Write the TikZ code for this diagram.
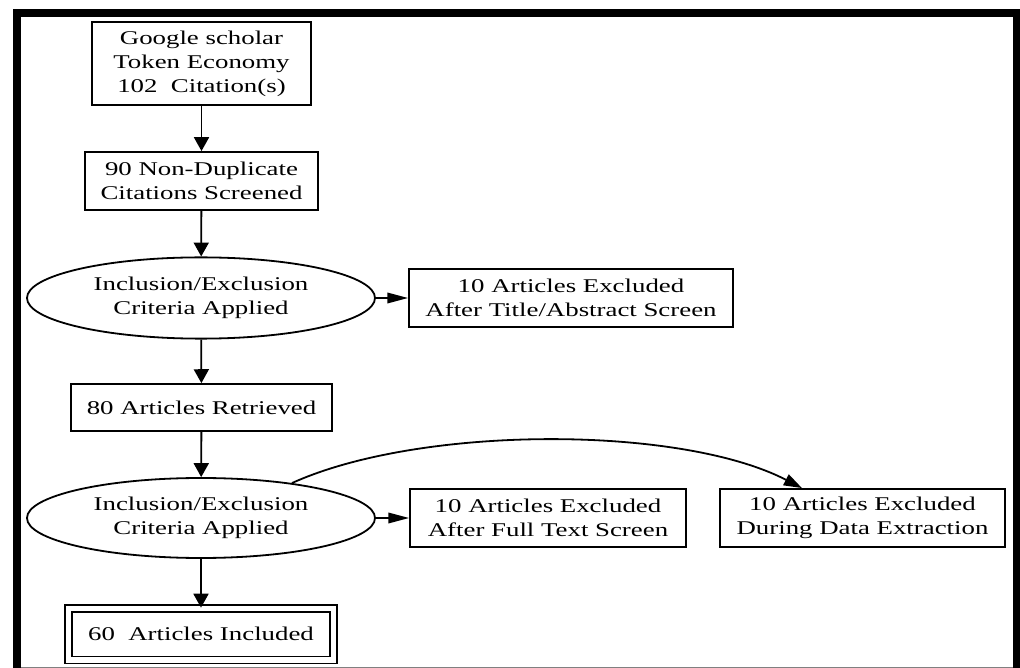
\documentclass[tikz,border=0pt]{standalone}
\usepackage{fontspec}
\setmainfont{Liberation Serif}[FakeStretch=1.38]
\usetikzlibrary{arrows.meta, shapes.geometric}

\begin{document}
\begin{tikzpicture}[x=0.72pt, y=-0.72pt, line width=1.3pt,
        box/.style={draw, rectangle, align=center, inner sep=0pt, minimum height=41.8pt, font=\fontsize{14pt}{17.3pt}\selectfont},
        crit/.style={draw, ellipse, align=center, inner sep=0pt, minimum width=250.6pt, minimum height=58.5pt, font=\fontsize{14pt}{17.3pt}\selectfont},
        down/.style={-{Triangle[length=10pt, width=10.8pt]}},
        side/.style={-{Triangle[length=15pt, width=7.6pt]}}
    ]
      \useasboundingbox (0,0) rectangle (1020,668);

      % Frame
      \draw[line width=5.8pt, line join=miter] (17,690) -- (17,13) -- (1017,13) -- (1017,690);
      \draw[gray, line width=0.6pt] (21,667.3) -- (1013,667.3);

      % Main column
      \node[box, minimum width=157.7pt, minimum height=59.8pt] (scholar) at (201.5,63.5) {Google scholar\\Token Economy\\102\ \ Citation(s)};
      \node[box, minimum width=167.8pt] (nondup) at (201.5,181) {90 Non-Duplicate\\Citations Screened};
      \node[crit] (crit1) at (201,298) {Inclusion/Exclusion\\Criteria Applied};
      \node[box, minimum width=187.9pt, minimum height=33.8pt] (retrieved) at (201.5,407.5) {80 Articles Retrieved};
      \node[crit, minimum height=57.6pt] (crit2) at (201,518) {Inclusion/Exclusion\\Criteria Applied};
      \node[box, double, double distance=3.7pt, minimum width=190.8pt, minimum height=37.1pt] (included) at (201,634.3) {60\ \ Articles Included};

      % Exclusions
      \node[box, minimum width=233.3pt] (excl1) at (571,298) {10 Articles Excluded\\After Title/Abstract Screen};
      \node[box, minimum width=198.7pt] (excl2) at (548,518) {10 Articles Excluded\\After Full Text Screen};
      \node[box, minimum width=205.2pt] (excl3) at (862.5,518) {10 Articles Excluded\\During Data Extraction};

      % Edges
      \draw[down] (scholar) -- (nondup);
      \draw[down] (nondup) -- (crit1);
      \draw[down] (crit1) -- (retrieved);
      \draw[down] (retrieved) -- (crit2);
      \draw[down] (crit2) -- (included);
      \draw[side] (crit1) -- (excl1);
      \draw[side] (crit2) -- (excl2);
      \draw[-{Triangle[length=13pt, width=8.6pt]}] (crit2.21) .. controls (420,425) and (680,425) .. ([xshift=-43.6pt]excl3.north);
    \end{tikzpicture}
\end{document}
